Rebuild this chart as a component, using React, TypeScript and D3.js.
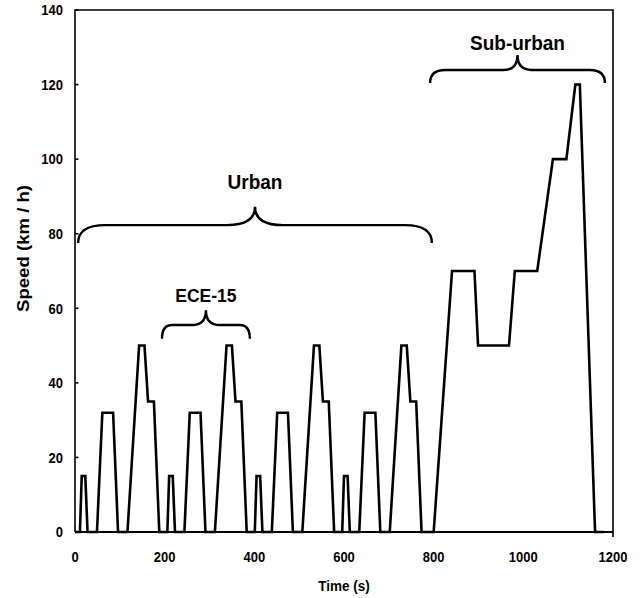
import React from "react";
import * as d3 from "d3";

// NEDC speed profile: time (s) and speed (km/h) breakpoints
const timeS: number[] = [
  0, 11, 15, 23, 28, 49, 61, 85, 96, 117, 143, 155, 163, 176, 188, 195,
  206, 210, 218, 223, 244, 256, 280, 291, 312, 338, 350, 358, 371, 383, 390,
  401, 405, 413, 418, 439, 451, 475, 486, 507, 533, 545, 553, 566, 578, 585,
  596, 600, 608, 613, 634, 646, 670, 681, 702, 728, 740, 748, 761, 773, 780,
  800, 841, 891, 899, 968, 981, 1031, 1066, 1096, 1116, 1126, 1160, 1180,
];
const speedKmh: number[] = [
  0, 0, 15, 15, 0, 0, 32, 32, 0, 0, 50, 50, 35, 35, 0, 0,
  0, 15, 15, 0, 0, 32, 32, 0, 0, 50, 50, 35, 35, 0, 0,
  0, 15, 15, 0, 0, 32, 32, 0, 0, 50, 50, 35, 35, 0, 0,
  0, 15, 15, 0, 0, 32, 32, 0, 0, 50, 50, 35, 35, 0, 0,
  0, 70, 70, 50, 50, 70, 70, 100, 100, 120, 120, 0, 0,
];

const xTicks: number[] = [0, 200, 400, 600, 800, 1000, 1200];
const yTicks: number[] = [0, 20, 40, 60, 80, 100, 120, 140];

// Brace annotations (time range, label)
const braceLabels: string[] = ["Urban", "ECE-15", "Sub-urban"];
const braceStart: number[] = [7, 194, 792];
const braceEnd: number[] = [796, 390, 1182];
const braceEndSpeed: number[] = [77.5, 51.8, 120.4];
const braceLineSpeed: number[] = [82.3, 55.5, 123.9];
const braceTipSpeed: number[] = [87.2, 59.5, 127.9];

const W = 641;
const H = 598;
const left = 75;
const right = 613;
const top = 10;
const bottom = 532;

export default function App() {
  const x = d3.scaleLinear().domain([0, 1200]).range([left, right]);
  const y = d3.scaleLinear().domain([0, 140]).range([bottom, top]);

  const pts: [number, number][] = timeS.map((t, i) => [t, speedKmh[i]]);
  const line = d3
    .line<[number, number]>()
    .x((d) => x(d[0]))
    .y((d) => y(d[1]));

  const braceCurve = [27, 10, 15];
  const braceMidCurve = [28, 14, 14];
  const labelFont = [19, 17.5, 19];
  const labelBaseline = [189, 302.5, 50];

  const font = "'Liberation Sans', Arial, Helvetica, sans-serif";

  return (
    <svg
      width={W}
      height={H}
      style={{ position: "absolute", left: 0, top: 0, background: "#fff" }}
      fontFamily={font}
      fontWeight="bold"
    >
      <rect x={0} y={0} width={W} height={H} fill="#fff" />
      {/* frame */}
      <path
        d={`M${left},${bottom} L${left},${top} L${right},${top} L${right},${bottom + 5}`}
        fill="none"
        stroke="#000"
        strokeWidth={1.6}
      />
      <line x1={left} x2={right} y1={bottom} y2={bottom} stroke="#000" strokeWidth={2} />
      {/* y ticks (inward) */}
      {yTicks.map((v) => (
        <g key={"yt" + v}>
          <line x1={left} x2={left + 3.5} y1={y(v)} y2={y(v)} stroke="#000" strokeWidth={1.6} />
          <text
            x={63}
            y={y(v)}
            textAnchor="end"
            fontSize={13}
            transform={`translate(0,${y(v)}) scale(1,1.12) translate(0,${-y(v)})`}
            dy="0.36em"
            fill="#000"
          >
            {v}
          </text>
        </g>
      ))}
      {/* x tick labels */}
      {xTicks.map((v) => (
        <text
          key={"xt" + v}
          x={x(v)}
          y={562}
          textAnchor="middle"
          fontSize={13}
          transform={`translate(0,562) scale(1,1.12) translate(0,-562)`}
          fill="#000"
        >
          {v}
        </text>
      ))}
      {/* axis titles */}
      <text
        x={(left + right) / 2}
        y={591}
        textAnchor="middle"
        fontSize={13.5}
        transform={`translate(0,591) scale(1,1.12) translate(0,-591)`}
        fill="#000"
      >
        Time (s)
      </text>
      <text
        transform={`translate(29,248.5) rotate(-90)`}
        textAnchor="middle"
        fontSize={17}
        textLength={127}
        lengthAdjust="spacingAndGlyphs"
        fill="#000"
      >
        Speed (km / h)
      </text>
      {/* data line */}
      <path
        d={line(pts) || ""}
        fill="none"
        stroke="#000"
        strokeWidth={2.6}
        strokeLinejoin="miter"
      />
      {/* braces */}
      {braceLabels.map((lab, i) => {
        const x0 = x(braceStart[i]);
        const x1 = x(braceEnd[i]);
        const xm = (x0 + x1) / 2;
        const ye = y(braceEndSpeed[i]);
        const yl = y(braceLineSpeed[i]);
        const yt = y(braceTipSpeed[i]);
        const r = braceCurve[i];
        const r2 = braceMidCurve[i];
        const d = `M${x0},${ye} Q${x0},${yl} ${x0 + r},${yl} L${xm - r2},${yl} Q${xm},${yl} ${xm},${yt} Q${xm},${yl} ${xm + r2},${yl} L${x1 - r},${yl} Q${x1},${yl} ${x1},${ye}`;
        const bl = labelBaseline[i];
        return (
          <g key={lab}>
            <path d={d} fill="none" stroke="#000" strokeWidth={2.4} />
            <text
              x={xm}
              y={bl}
              textAnchor="middle"
              fontSize={labelFont[i]}
              transform={`translate(0,${bl}) scale(1,1.05) translate(0,${-bl})`}
              fill="#000"
            >
              {lab}
            </text>
          </g>
        );
      })}
    </svg>
  );
}
